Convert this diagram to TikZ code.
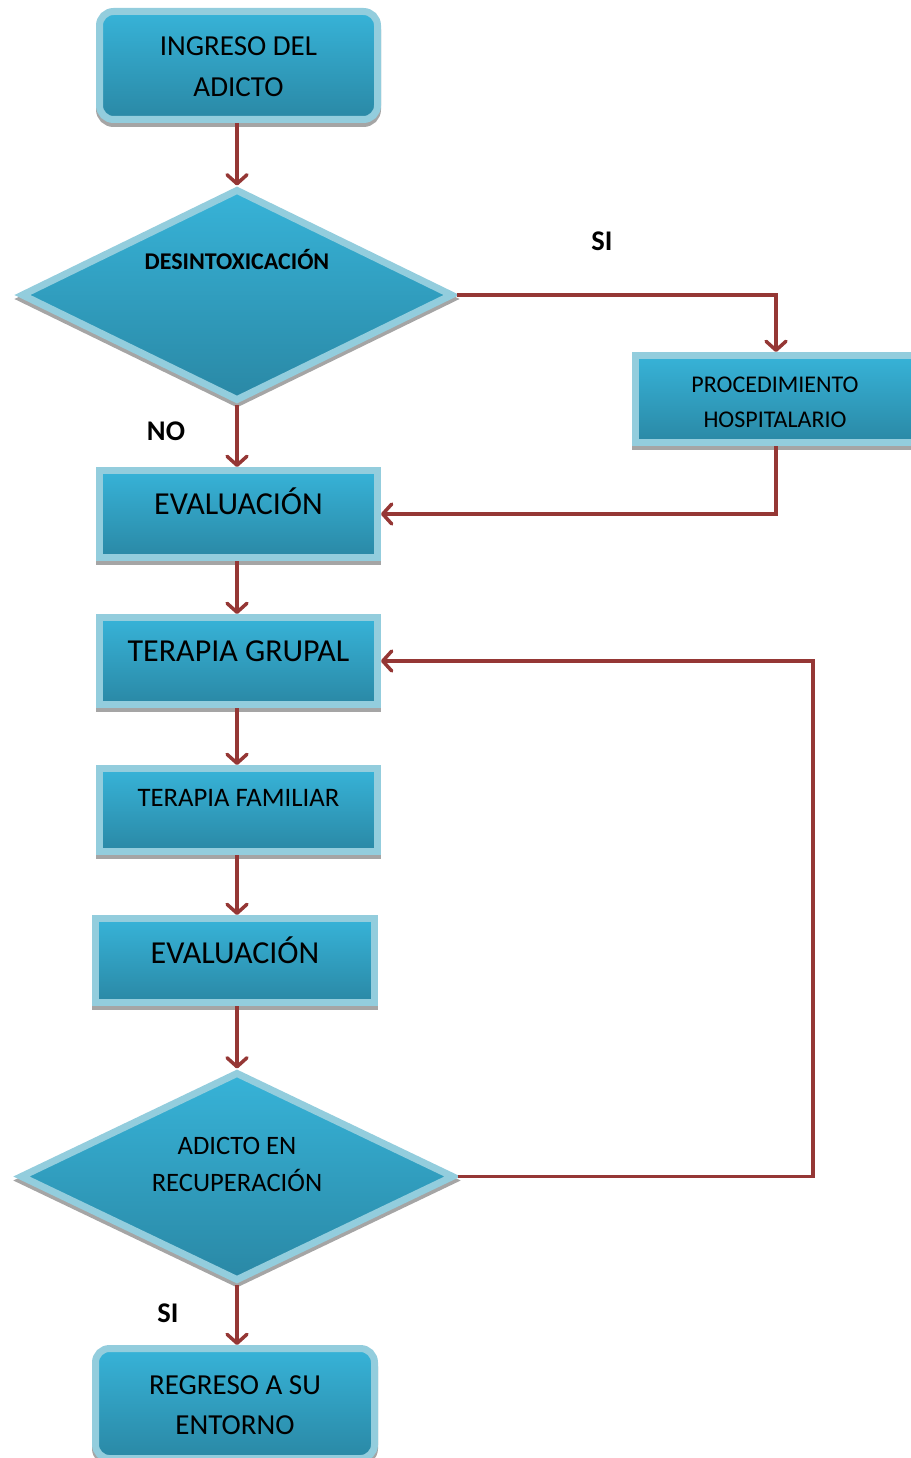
\documentclass[tikz,border=0pt]{standalone}
\usepackage{fontspec}
\setmainfont{Carlito}
\usetikzlibrary{arrows.meta,shapes.geometric}
\definecolor{band}{HTML}{93CDDD}
\definecolor{topc}{HTML}{37B3D8}
\definecolor{botc}{HTML}{2A88A5}
\definecolor{shgray}{HTML}{A5A5A5}
\definecolor{connc}{HTML}{953735}
\begin{document}
\begin{tikzpicture}[x=1pt,y=-1pt,
  shapebase/.style={draw=band, line width=7pt, top color=topc, bottom color=botc,
    outer sep=3.5pt, inner sep=0pt,
    preaction={draw=shgray, line width=7pt, transform canvas={yshift=-4pt}}},
  sqbox/.style={shapebase, rectangle},
  rbox/.style={shapebase, rectangle, rounded corners=14pt},
  dia/.style={shapebase, diamond},
  lbl/.style={inner sep=0pt, align=center, text=black},
  one/.style={text height=#1, text depth=0pt},
  conn/.style={draw=connc, line width=3.5pt, -{Straight Barb[length=9pt,width=20pt,round]}},
]
\useasboundingbox (0,0) rectangle (910,1458);

% boxes
\node[rbox, minimum width=278pt, minimum height=108pt] (b1) at (238.5,65.5) {};
\node[dia, minimum width=432pt, minimum height=212pt] (d1) at (237,295) {};
\node[sqbox, minimum width=281pt, minimum height=87pt] (proc) at (776,399) {};
\node[sqbox, minimum width=278pt, minimum height=87pt] (e1) at (238.5,514) {};
\node[sqbox, minimum width=278pt, minimum height=87pt] (tg) at (238.5,661) {};
\node[sqbox, minimum width=278pt, minimum height=83pt] (tf) at (238.5,810) {};
\node[sqbox, minimum width=279pt, minimum height=84pt] (e2) at (235,960.5) {};
\node[dia, minimum width=434pt, minimum height=209pt] (d2) at (237,1176.5) {};
\node[rbox, minimum width=279pt, minimum height=110pt] (rg) at (235,1403.5) {};

% texts
\node[lbl, font=\fontsize{29}{40.5}\selectfont] (b1t) at (238.5,66.8) {INGRESO DEL\\ADICTO};
\node[lbl, one=15.4pt, font=\bfseries\fontsize{24}{28}\selectfont] (d1t) at (237,262) {DESINTOXICACIÓN};
\node[lbl, font=\fontsize{24}{35}\selectfont] (proct) at (775,402.5) {PROCEDIMIENTO\\HOSPITALARIO};
\node[lbl, one=20.6pt, font=\fontsize{32}{38}\selectfont] (e1t) at (238.5,504) {EVALUACIÓN};
\node[lbl, one=20.6pt, font=\fontsize{32}{38}\selectfont] (tgt) at (238.5,651) {TERAPIA GRUPAL};
\node[lbl, one=17.2pt, font=\fontsize{26.7}{32}\selectfont] (tft) at (238.5,798) {TERAPIA FAMILIAR};
\node[lbl, one=20.6pt, font=\fontsize{32}{38}\selectfont] (e2t) at (235,953) {EVALUACIÓN};
\node[lbl, font=\fontsize{26.6}{37}\selectfont] (d2t) at (237,1164.5) {ADICTO EN\\RECUPERACIÓN};
\node[lbl, font=\fontsize{29}{40.5}\selectfont] (rgt) at (235,1405) {REGRESO A SU\\ENTORNO};

\node[lbl, one=18.3pt, font=\bfseries\fontsize{28.5}{34}\selectfont] (si1) at (602,241) {SI};
\node[lbl, one=18.3pt, font=\bfseries\fontsize{28.5}{34}\selectfont] (no1) at (166,431) {NO};
\node[lbl, one=18.3pt, font=\bfseries\fontsize{28.5}{34}\selectfont] (si2) at (168,1313) {SI};

\coordinate (colx) at (237,0);
\coordinate (loopx) at (813,0);

% connectors
\draw[conn] (b1.south -| colx) -- (d1.north);
\draw[conn] (d1.east) -| (proc.north);
\draw[conn] (d1.south) -- (d1.south |- e1.north);
\draw[conn] (proc.south) |- (e1.east);
\draw[conn] (e1.south -| colx) -- (tg.north -| colx);
\draw[conn] (tg.south -| colx) -- (tf.north -| colx);
\draw[conn] (tf.south -| colx) -- (e2.north -| colx);
\draw[conn] (e2.south -| colx) -- (d2.north);
\draw[conn] (d2.east) -- (d2.east -| loopx) |- (tg.east);
\draw[conn] (d2.south) -- (d2.south |- rg.north);
\end{tikzpicture}
\end{document}
